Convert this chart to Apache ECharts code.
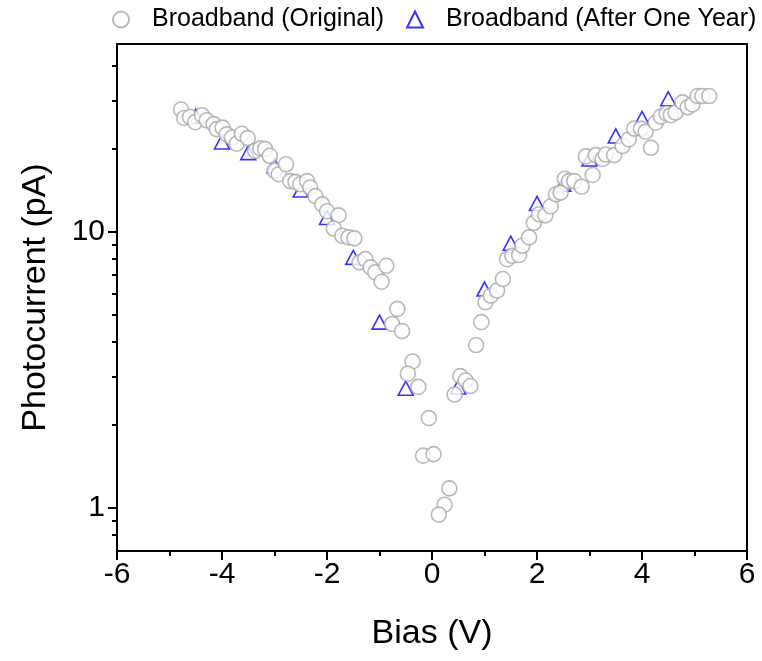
<!DOCTYPE html>
<html>
<head>
<meta charset="utf-8">
<script src="https://cdn.jsdelivr.net/npm/echarts@6/dist/echarts.min.js"></script>
<style>
  html, body { margin: 0; padding: 0; background: #fff; }
  #chart { width: 762px; height: 661px; }
</style>
</head>
<body>
<div id="chart"></div>
<script>
// Broadband (Original) - bias (V)
const origBias = [
  -4.78, -4.72, -4.61, -4.51, -4.38, -4.29, -4.16, -4.10, -3.99, -3.91,
  -3.81, -3.72, -3.62, -3.51, -3.37, -3.27, -3.18, -3.09, -3.00, -2.92,
  -2.78, -2.70, -2.60, -2.51, -2.38, -2.32, -2.22, -2.09, -2.00, -1.78,
  -1.87, -1.71, -1.59, -1.48, -1.38, -1.27, -1.17, -1.08, -0.87, -0.96,
  -0.66, -0.76, -0.57, -0.37, -0.46, -0.26, -0.06, -0.17, 0.03, 0.33,
  0.24, 0.13, 0.43, 0.54, 0.64, 0.73, 0.84, 0.94, 1.02, 1.12,
  1.24, 1.35, 1.43, 1.53, 1.66, 1.72, 1.85, 1.94, 2.04, 2.16,
  2.26, 2.36, 2.45, 2.53, 2.61, 2.71, 2.85, 2.93, 3.06, 3.12,
  3.25, 3.31, 3.47, 3.63, 3.75, 3.85, 3.98, 4.07, 4.17, 4.26,
  4.36, 4.47, 4.55, 4.64, 4.77, 4.87, 4.96, 5.06, 5.15, 5.28
]
// Broadband (Original) - photocurrent (pA)
const origCurrent = [
  27.8, 25.9, 26.1, 25.0, 26.5, 25.4, 24.6, 23.6, 23.9, 22.6,
  22.0, 20.9, 22.7, 21.9, 19.7, 20.1, 20.0, 18.9, 16.7, 16.2,
  17.6, 15.3, 15.2, 14.9, 15.3, 14.5, 13.5, 12.6, 11.9, 11.5,
  10.3, 9.70, 9.57, 9.49, 7.77, 7.98, 7.45, 7.15, 7.55, 6.61,
  5.27, 4.65, 4.38, 3.40, 3.07, 2.75, 2.12, 1.55, 1.57, 1.18,
  1.03, 0.948, 2.58, 3.01, 2.90, 2.77, 3.90, 4.72, 5.57, 5.89,
  6.14, 6.76, 7.98, 8.21, 8.26, 8.92, 9.57, 10.8, 11.6, 11.5,
  12.4, 13.7, 13.9, 15.6, 15.3, 15.3, 14.6, 18.8, 16.1, 19.0,
  18.4, 19.1, 19.0, 20.5, 21.7, 23.7, 23.7, 23.1, 20.2, 24.9,
  26.2, 26.9, 26.5, 27.1, 29.5, 28.3, 29.0, 31.1, 31.1, 31.1
]

// Broadband (After One Year)
const yearBias = [
  -4.5, -4.0, -3.5, -3.0, -2.5, -2.0, -1.5, -1.0, -0.5,
  0.5, 1.0, 1.5, 2.0, 2.5, 3.0, 3.5, 4.0, 4.5
]
const yearCurrent = [
  26.3, 21.2, 19.4, 17.4, 14.2, 11.3, 8.1, 4.72, 2.72,
  2.75, 6.22, 9.12, 12.7, 14.9, 18.4, 22.3, 25.8, 30.4
]

// y axis ticks (pA)
const yMajorTicks = [1, 10]
const yMinorTicks = [0.8, 0.9, 2, 3, 4, 5, 6, 7, 8, 9, 20, 30, 40]
const yMin = 0.7
const yMax = 48

const seriesNames = ['Broadband (Original)', 'Broadband (After One Year)']

const chart = echarts.init(document.getElementById('chart'))
const FONT = 'Liberation Sans, Arial, sans-serif'
const lg = (v) => Math.log10(v)

// one legend box per series, so the wide text never wraps
const legendBase = {
  top: 2,
  itemWidth: 16,
  itemHeight: 16,
  textStyle: { fontSize: 25, color: '#000', fontFamily: FONT, padding: [0, 0, 0, 18] },
}

const option = {
  backgroundColor: '#fff',
  animation: false,
  textStyle: { fontFamily: FONT },
  legend: [
    { ...legendBase, data: [seriesNames[0]], left: 107 },
    { ...legendBase, data: [seriesNames[1]], left: 401 },
  ],
  grid: {
    left: 117,
    right: 15,
    top: 44,
    bottom: 110,
    show: true,
    borderColor: '#000',
    borderWidth: 2,
    backgroundColor: 'transparent',
  },
  xAxis: {
    type: 'value',
    min: -6,
    max: 6,
    interval: 2,
    name: 'Bias (V)',
    nameLocation: 'middle',
    nameGap: 66,
    nameTextStyle: { fontSize: 34, color: '#000', fontFamily: FONT },
    axisLine: { onZero: false, lineStyle: { color: '#000', width: 2 } },
    axisTick: { length: 9, lineStyle: { color: '#000', width: 2 } },
    minorTick: { show: true, splitNumber: 2, length: 5, lineStyle: { color: '#000', width: 2 } },
    axisLabel: { fontSize: 30, color: '#000', margin: 9, fontFamily: FONT },
    splitLine: { show: false },
  },
  yAxis: [
    {
      // scale used by the series
      type: 'log',
      logBase: 10,
      min: yMin,
      max: yMax,
      show: false,
      splitLine: { show: false },
    },
    {
      // major ticks + labels (log10 space)
      type: 'value',
      min: lg(yMin),
      max: lg(yMax),
      position: 'left',
      name: 'Photocurrent (pA)',
      nameLocation: 'middle',
      nameGap: 64,
      nameTextStyle: { fontSize: 34, color: '#000', fontFamily: FONT },
      axisLine: { show: true, lineStyle: { color: '#000', width: 2 } },
      axisTick: {
        show: true,
        length: 9,
        customValues: yMajorTicks.map(lg),
        lineStyle: { color: '#000', width: 2 },
      },
      axisLabel: {
        fontSize: 30,
        color: '#000',
        margin: 12,
        fontFamily: FONT,
        customValues: yMajorTicks.map(lg),
        formatter: (v) => String(Math.round(Math.pow(10, v))),
      },
      splitLine: { show: false },
    },
    {
      // minor ticks
      type: 'value',
      min: lg(yMin),
      max: lg(yMax),
      position: 'left',
      axisLine: { show: false },
      axisTick: {
        show: true,
        length: 5,
        customValues: yMinorTicks.map(lg),
        lineStyle: { color: '#000', width: 2 },
      },
      axisLabel: { show: false },
      splitLine: { show: false },
    },
  ],
  series: [
    {
      name: seriesNames[0],
      type: 'scatter',
      yAxisIndex: 0,
      z: 3,
      symbol: 'circle',
      symbolSize: 15,
      itemStyle: { color: '#fff', borderColor: '#a8a8a8', borderWidth: 1.6 },
      data: origBias.map((x, i) => [x, origCurrent[i]]),
    },
    {
      name: seriesNames[1],
      type: 'scatter',
      yAxisIndex: 0,
      z: 2,
      symbol: 'triangle',
      symbolSize: [15, 14],
      itemStyle: { color: '#fff', borderColor: '#0000ff', borderWidth: 1.6 },
      data: yearBias.map((x, i) => [x, yearCurrent[i]]),
    },
  ],
}

chart.setOption(option)
</script>
</body>
</html>
